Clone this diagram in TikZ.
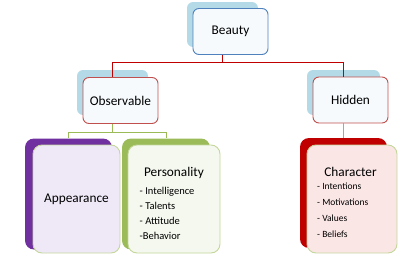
\documentclass[tikz,border=0pt]{standalone}
\usepackage{fontspec}
\setmainfont{Carlito}
\usepackage{xcolor}
\usetikzlibrary{positioning, calc}
\definecolor{shadeblue}{RGB}{180,218,232}
\definecolor{edgeblue}{RGB}{79,129,189}
\definecolor{edgered}{RGB}{192,80,77}
\definecolor{linkred}{RGB}{192,0,0}
\definecolor{linkgreen}{RGB}{155,187,89}
\definecolor{paleedge}{RGB}{196,215,155}
\definecolor{backpurple}{RGB}{112,48,160}
\definecolor{backgreen}{RGB}{155,187,89}
\definecolor{backred}{RGB}{192,0,0}
\definecolor{fillice}{RGB}{246,250,253}
\definecolor{filllav}{RGB}{239,233,247}
\definecolor{fillmoss}{RGB}{245,248,239}
\definecolor{fillrose}{RGB}{251,230,230}
\tikzset{
	back_top/.style={rectangle, fill=shadeblue, rounded corners=6pt, minimum width=71pt, minimum height=45pt, inner sep=0pt},
	front_top/.style={rectangle, draw=edgeblue, fill=fillice, line width=0.9pt, rounded corners=6pt, minimum width=75pt, minimum height=46pt, font=\fontsize{13.3}{15}\selectfont},
	back_low/.style={rectangle, rounded corners=9pt, minimum width=87pt, minimum height=111pt, inner sep=0pt},
	front_low/.style={rectangle, draw=paleedge, line width=0.9pt, rounded corners=9pt, minimum height=108pt, inner sep=0pt},
	title_txt/.style={font=\fontsize{13.3}{15}\selectfont, inner sep=0pt},
	list_txt/.style={font=\fontsize{10.5}{12}\selectfont, align=left, inner sep=0pt, anchor=north west}
}
\tikzset{
	link_red/.style={draw=linkred, line width=0.8pt},
	link_green/.style={draw=linkgreen, line width=0.8pt}
}
\begin{document}
\begin{tikzpicture}[x=1pt, y=-1pt]
	\useasboundingbox (0,0) rectangle (400,260);
	% top level
	\node[back_top] (beautyback) at (222.5,24.5) {};
	\node[front_top] (beauty) at (230.5,31.5) {Beauty};
	% second level
	\node[back_top] (obsback) at (112.5,92.5) {};
	\node[front_top, draw=edgered] (obs) at (120.5,100.5) {Observable};
	\node[back_top, minimum width=73pt] (hidback) at (343.5,92.5) {};
	\node[front_top, draw=edgered] (hid) at (350.5,100) {Hidden};
	% third level
	\node[back_low, fill=backpurple] (appback) at (68.5,194) {};
	\node[front_low, fill=filllav, minimum width=87pt] (app) at (76.5,199) {};
	\node[title_txt] (apptitle) at (app.center) {Appearance};
	\node[back_low, fill=backgreen, minimum width=88pt] (persback) at (166,194) {};
	\node[front_low, fill=fillmoss, minimum width=92pt] (pers) at (174,199) {};
	\node[title_txt] (perstitle) at (174,173) {Personality};
	\node[list_txt] (perslist) at (139.5,187.5) {- Intelligence\\[3pt] - Talents\\[3pt] - Attitude\\[3pt] -Behavior};
	\node[back_low, fill=backred, minimum height=110pt] (charback) at (343.5,193) {};
	\node[front_low, fill=fillrose, minimum width=90pt] (char) at (352,199) {};
	\node[title_txt] (chartitle) at (350.5,172) {Character};
	\node[list_txt, font=\fontsize{9.5}{10}\selectfont] (charlist) at (317,183) {- Intentions\\[6pt] - Motivations\\[6pt] - Values\\[6pt] - Beliefs};
	% connectors
	\coordinate (redbar) at ($(beautyback.center |- beauty.south)+(0,7)$);
	\draw[link_red] (beautyback.center |- beauty.south) -- (redbar);
	\draw[link_red] (obsback.center |- obs.north) -- (obsback.center |- redbar) -- (hidback.center |- redbar) -- (hidback.center |- hid.north);
	\coordinate (greenbar) at ($(obsback.center |- obs.south)+(0,8)$);
	\draw[link_green] (obsback.center |- obs.south) -- (greenbar);
	\draw[link_green] (appback.north) -- (appback.center |- greenbar) -- (persback.center |- greenbar) -- (persback.north);
	\draw[link_green] (hidback.center |- hid.south) -- (charback.north);
\end{tikzpicture}
\end{document}
